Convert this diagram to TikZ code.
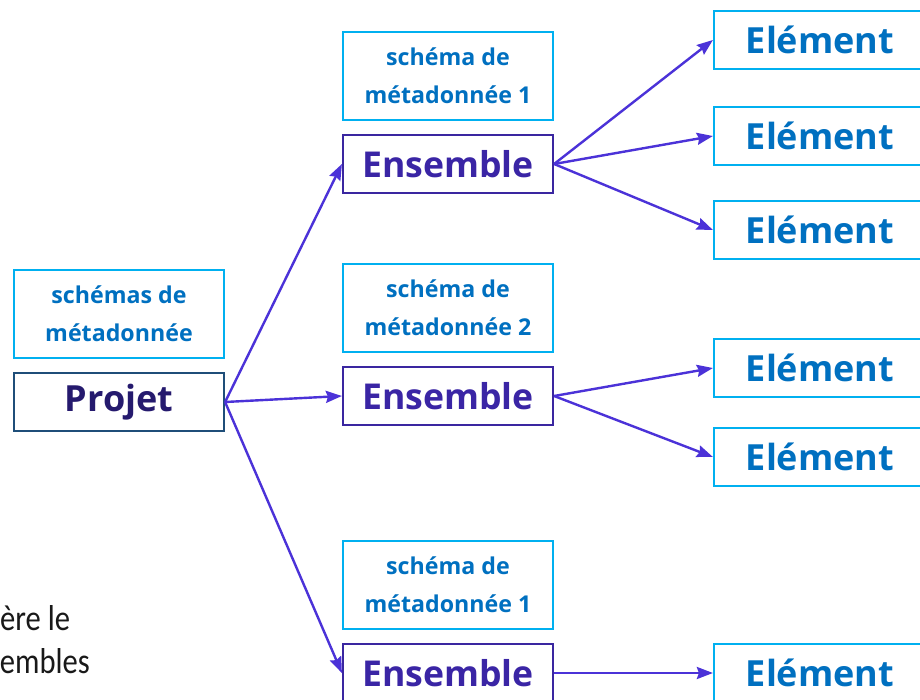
\documentclass[tikz,border=0pt]{standalone}
\usepackage{fontspec}
\setmainfont{Open Sans}
\newfontfamily\smallfont{Carlito}
\usetikzlibrary{arrows.meta}
\definecolor{lblue}{HTML}{00B0F0}
\definecolor{tblue}{HTML}{0070C0}
\definecolor{pborder}{HTML}{1F4E79}
\definecolor{ptext}{HTML}{251A6E}
\definecolor{eborder}{HTML}{3A26A0}
\definecolor{etext}{HTML}{3A25A5}
\definecolor{arr}{HTML}{4B32D8}
\tikzset{
  metabox/.style={draw=lblue, line width=2.2pt, minimum width=210pt, minimum height=88pt, inner sep=0pt,
    align=center, text=tblue, font=\bfseries\fontsize{23.2}{38}\selectfont},
  projbox/.style={draw=pborder, line width=2.2pt, minimum width=210pt, minimum height=58pt, inner sep=0pt,
    text=ptext, font=\bfseries\fontsize{36}{40}\selectfont},
  ensbox/.style={draw=eborder, line width=2.2pt, minimum width=210pt, minimum height=58pt, inner sep=0pt,
    text=etext, font=\bfseries\fontsize{35.6}{40}\selectfont},
  elbox/.style={draw=lblue, line width=2.2pt, minimum width=212pt, minimum height=58pt, inner sep=0pt,
    text=tblue, font=\bfseries\fontsize{36}{40}\selectfont},
  conn/.style={draw=arr, line width=2.4pt, -{Stealth[length=16pt,width=12pt,inset=2pt]}},
  frag/.style={font=\smallfont\fontsize{36}{44}\selectfont, text=black!90, inner sep=0pt, xscale=0.85}
}
\begin{document}
\begin{tikzpicture}[x=1pt,y=-1pt]
\useasboundingbox (0,0) rectangle (920,700);
\clip (0,0) rectangle (920,700);
\fill[white] (0,0) rectangle (920,700);
% left
\node[metabox] (m0) at (119,314) {schémas de\\métadonnée};
\node[projbox] (p) at (119,402) {Projet};
% ensembles
\node[metabox] (mA) at (448,76) {schéma de\\métadonnée 1};
\node[ensbox] (eA) at (448,164) {Ensemble};
\node[metabox] (mB) at (448,308) {schéma de\\métadonnée 2};
\node[ensbox] (eB) at (448,396) {Ensemble};
\node[metabox] (mC) at (448,585) {schéma de\\métadonnée 1};
\node[ensbox] (eC) at (448,673) {Ensemble};
% elements
\node[elbox] (a1) at (820,40) {Elément};
\node[elbox] (a2) at (820,136) {Elément};
\node[elbox] (a3) at (820,230) {Elément};
\node[elbox] (b1) at (820,368) {Elément};
\node[elbox] (b2) at (820,457) {Elément};
\node[elbox] (c1) at (820,673) {Elément};
% connectors
\draw[conn] (p.east) -- (eA.west);
\draw[conn] (p.east) -- (eB.west);
\draw[conn] (p.east) -- (eC.west);
\draw[conn] (eA.east) -- (a1.west);
\draw[conn] (eA.east) -- (a2.west);
\draw[conn] (eA.east) -- (a3.west);
\draw[conn] (eB.east) -- (b1.west);
\draw[conn] (eB.east) -- (b2.west);
\draw[conn] (eC.east) -- (c1.west);
% fragments
\node[frag, anchor=base west] (f1) at (0,630) {ère le};
\node[frag, anchor=base east] (f2) at (90,673) {embles};
\end{tikzpicture}
\end{document}
